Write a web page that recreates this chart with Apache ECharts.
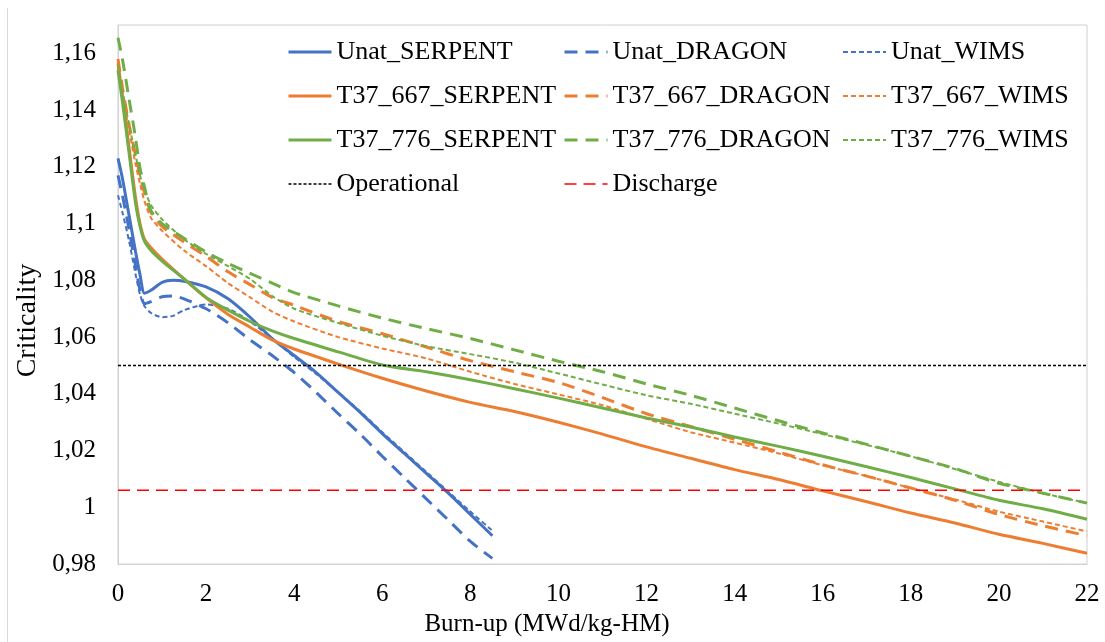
<!DOCTYPE html>
<html>
<head>
<meta charset="utf-8">
<script src="https://cdn.jsdelivr.net/npm/echarts@6/dist/echarts.min.js"></script>
<style>
html,body{margin:0;padding:0;background:#fff;}
#chart{width:1105px;height:642px;}
</style>
</head>
<body>
<div id="chart"></div>
<script>
// Burn-up grids (MWd/kg-HM)
const burnupUnat = [0, 0.1, 0.25, 0.4, 0.5, 0.6, 0.75, 1, 1.25, 1.5, 2, 2.5, 3, 3.5, 4, 4.5, 5, 5.5, 6, 6.5, 7, 7.5, 8, 8.5];
const burnupT37 = [0, 0.1, 0.25, 0.4, 0.5, 0.6, 0.75, 1, 1.5, 2, 2.5, 3, 3.5, 4, 5, 6, 7, 8, 9, 10, 11, 12, 13, 14, 15, 16, 17, 18, 19, 20, 21, 22];

// Criticality values
const unatSerpent = [1.123, 1.116, 1.103, 1.090, 1.082, 1.0755, 1.0765, 1.0793, 1.0800, 1.0797, 1.0777, 1.0735, 1.0670, 1.0595, 1.0535, 1.0475, 1.0405, 1.0335, 1.0260, 1.0190, 1.0120, 1.0050, 0.9975, 0.9900];
const unatDragon  = [1.117, 1.110, 1.098, 1.085, 1.0765, 1.0718, 1.0725, 1.0742, 1.0745, 1.0735, 1.0700, 1.0650, 1.0590, 1.0535, 1.0475, 1.0405, 1.0330, 1.0258, 1.0180, 1.0105, 1.0030, 0.9955, 0.9880, 0.9820];
const unatWims    = [1.110, 1.104, 1.094, 1.082, 1.075, 1.071, 1.0685, 1.0670, 1.0675, 1.0695, 1.0715, 1.0700, 1.0655, 1.0595, 1.0530, 1.0470, 1.0405, 1.0338, 1.0265, 1.0195, 1.0125, 1.0055, 0.9985, 0.9918];

const t667Serpent = [1.1565, 1.145, 1.127, 1.109, 1.100, 1.0945, 1.0915, 1.0875, 1.0805, 1.0738, 1.0680, 1.0635, 1.0590, 1.0558, 1.0505, 1.0455, 1.0410, 1.0370, 1.0338, 1.0300, 1.0258, 1.0213, 1.0173, 1.0133, 1.0098, 1.0058, 1.0020, 0.9980, 0.9945, 0.9905, 0.9873, 0.9838];
const t667Dragon  = [1.158, 1.148, 1.135, 1.124, 1.117, 1.111, 1.104, 1.099, 1.0935, 1.0885, 1.0830, 1.0785, 1.0740, 1.0712, 1.0655, 1.0612, 1.0565, 1.0517, 1.0478, 1.0440, 1.0387, 1.0330, 1.0285, 1.0240, 1.0195, 1.0150, 1.0110, 1.0068, 1.0025, 0.9975, 0.9935, 0.9900];
const t667Wims    = [1.155, 1.146, 1.133, 1.121, 1.114, 1.108, 1.102, 1.0975, 1.0905, 1.0850, 1.0790, 1.0740, 1.0690, 1.0655, 1.0600, 1.0560, 1.0525, 1.0478, 1.0435, 1.0398, 1.0360, 1.0312, 1.0265, 1.0228, 1.0190, 1.0148, 1.0110, 1.0068, 1.0028, 0.9985, 0.9950, 0.9915];

const t776Serpent = [1.154, 1.143, 1.125, 1.107, 1.099, 1.0938, 1.0905, 1.0868, 1.0805, 1.0740, 1.0695, 1.0655, 1.0622, 1.0595, 1.0548, 1.0502, 1.0478, 1.0450, 1.0418, 1.0385, 1.0350, 1.0315, 1.0283, 1.0248, 1.0215, 1.0180, 1.0143, 1.0105, 1.0065, 1.0025, 0.9995, 0.9958];
const t776Dragon  = [1.1655, 1.158, 1.144, 1.130, 1.1195, 1.113, 1.1045, 1.100, 1.0948, 1.0900, 1.0860, 1.0825, 1.0790, 1.0757, 1.0710, 1.0667, 1.0630, 1.0595, 1.0555, 1.0515, 1.0478, 1.0435, 1.0395, 1.0350, 1.0305, 1.0262, 1.0222, 1.0180, 1.0137, 1.0085, 1.0050, 1.0015];
const t776Wims    = [1.156, 1.147, 1.135, 1.124, 1.117, 1.112, 1.1065, 1.1015, 1.0945, 1.0893, 1.0850, 1.0805, 1.0745, 1.0700, 1.0650, 1.0605, 1.0568, 1.0540, 1.0510, 1.0472, 1.0433, 1.0395, 1.0365, 1.0330, 1.0295, 1.0258, 1.0220, 1.0180, 1.0135, 1.0090, 1.0050, 1.0015];

// Limits
const limitRange = [0, 22];
const operationalLevel = 1.05;
const dischargeLevel = 1.006;

// Axis ticks
const xTicks = [0, 22, 2];
const yTicks = [0.98, 1.17, 0.02];

const names = {
  us: 'Unat_SERPENT', ud: 'Unat_DRAGON', uw: 'Unat_WIMS',
  os: 'T37_667_SERPENT', od: 'T37_667_DRAGON', ow: 'T37_667_WIMS',
  gs: 'T37_776_SERPENT', gd: 'T37_776_DRAGON', gw: 'T37_776_WIMS',
  op: 'Operational', dc: 'Discharge'
};

const BLUE = '#4472C4', ORANGE = '#ED7D31', GREEN = '#70AD47';
const FONT = '"Liberation Serif", "Times New Roman", serif';

function zip(xs, ys) { return xs.map((x, i) => [x, ys[i]]); }

const SOLID = { type: 'solid', width: 3 };
const DASH = { type: [13, 8], width: 3 };
const DOT = { type: [5, 3], width: 2 };
const OPS = { type: [3, 2], width: 1.5 };
const DIS = { type: [12, 7], width: 1.5 };

function mk(name, xs, ys, color, style) {
  return {
    name: name, type: 'line', data: zip(xs, ys), symbol: 'none', smooth: 0.25,
    itemStyle: { color: color },
    lineStyle: Object.assign({ color: color }, style)
  };
}

const series = [
  mk(names.us, burnupUnat, unatSerpent, BLUE, SOLID),
  mk(names.ud, burnupUnat, unatDragon, BLUE, DASH),
  mk(names.uw, burnupUnat, unatWims, BLUE, DOT),
  mk(names.os, burnupT37, t667Serpent, ORANGE, SOLID),
  mk(names.od, burnupT37, t667Dragon, ORANGE, DASH),
  mk(names.ow, burnupT37, t667Wims, ORANGE, DOT),
  mk(names.gs, burnupT37, t776Serpent, GREEN, SOLID),
  mk(names.gd, burnupT37, t776Dragon, GREEN, DASH),
  mk(names.gw, burnupT37, t776Wims, GREEN, DOT),
  {
    name: names.op, type: 'line', symbol: 'none',
    data: limitRange.map(x => [x, operationalLevel]),
    itemStyle: { color: '#000' },
    lineStyle: Object.assign({ color: '#000' }, OPS)
  },
  {
    name: names.dc, type: 'line', symbol: 'none',
    data: limitRange.map(x => [x, dischargeLevel]),
    itemStyle: { color: '#FF0000' },
    lineStyle: Object.assign({ color: '#FF0000' }, DIS)
  }
];

function item(name, style) {
  return { name: name, lineStyle: { width: style.width, type: style.type } };
}

function legendCol(left, data) {
  return {
    orient: 'vertical', left: left, top: 39, padding: 0,
    itemWidth: 43, itemHeight: 14, itemGap: 18,
    data: data,
    itemStyle: { color: 'rgba(0,0,0,0)', borderColor: 'rgba(0,0,0,0)', borderWidth: 0 },
    textStyle: { fontFamily: FONT, fontSize: 26, color: '#000', lineHeight: 26 },
    selectedMode: false
  };
}

const chart = echarts.init(document.getElementById('chart'));
chart.setOption({
  animation: false,
  backgroundColor: '#fff',
  graphic: [{
    type: 'line', shape: { x1: 7.5, y1: 8, x2: 7.5, y2: 642 },
    style: { stroke: '#d9d9d9', lineWidth: 1 }
  }],
  grid: {
    left: 118, right: 18, top: 25, bottom: 75,
    show: true, borderColor: '#d0d0d0', borderWidth: 1, backgroundColor: 'transparent'
  },
  legend: [
    legendCol(287, [item(names.us, SOLID), item(names.os, SOLID), item(names.gs, SOLID), item(names.op, OPS)]),
    legendCol(563, [item(names.ud, DASH), item(names.od, DASH), item(names.gd, DASH), item(names.dc, DIS)]),
    legendCol(842, [item(names.uw, DOT), item(names.ow, DOT), item(names.gw, DOT)])
  ],
  xAxis: {
    type: 'value', min: xTicks[0], max: xTicks[1], interval: xTicks[2],
    name: 'Burn-up (MWd/kg-HM)', nameLocation: 'middle', nameGap: 46,
    nameTextStyle: { fontFamily: FONT, fontSize: 25, color: '#000', padding: [0, 111, 0, 0] },
    axisLine: { show: true, lineStyle: { color: '#d0d0d0' } },
    axisTick: { show: false },
    splitLine: { show: false },
    axisLabel: { fontFamily: FONT, fontSize: 25, color: '#000', margin: 18 }
  },
  yAxis: {
    type: 'value', min: yTicks[0], max: yTicks[1], interval: yTicks[2],
    name: 'Criticality', nameLocation: 'middle', nameGap: 74, nameRotate: 90,
    nameTextStyle: { fontFamily: FONT, fontSize: 28, color: '#000', padding: [0, 52, 0, 0] },
    axisLine: { show: true, lineStyle: { color: '#d0d0d0' } },
    axisTick: { show: false },
    splitLine: { show: false },
    axisLabel: {
      fontFamily: FONT, fontSize: 25, color: '#000', margin: 22,
      showMaxLabel: false,
      formatter: function (v) {
        const r = Math.round(v * 100) / 100;
        if (r > 1.165) return '';
        return String(r).replace('.', ',');
      }
    }
  },
  series: series
});
</script>
</body>
</html>
